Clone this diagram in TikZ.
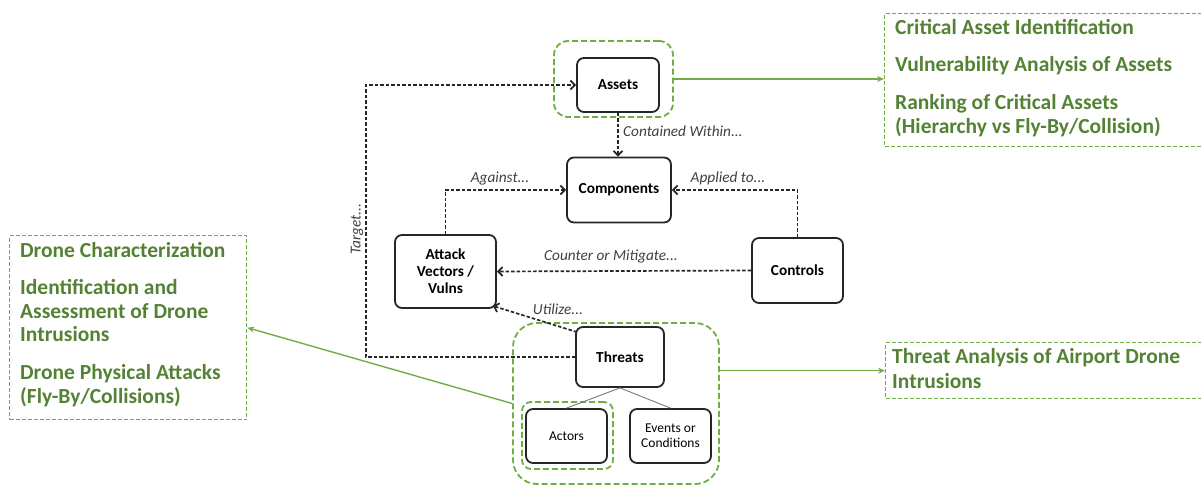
\documentclass[tikz,border=0pt]{standalone}
\usepackage{fontspec}
\setmainfont{Carlito}
\usetikzlibrary{arrows.meta}
\definecolor{grn}{RGB}{84,130,53}
\definecolor{grnline}{RGB}{112,173,71}
\definecolor{boxline}{RGB}{38,38,38}
\definecolor{lbl}{RGB}{64,64,64}
\definecolor{treeline}{RGB}{120,120,120}
\begin{document}
\begin{tikzpicture}[x=1pt,y=-1pt,
  box/.style={draw=boxline, line width=1.8pt, rounded corners=7pt, fill=white,
    font=\fontsize{15.3}{17}\selectfont\bfseries, align=center, inner sep=0pt},
  sub/.style={box, font=\fontsize{13.5}{15}\selectfont},
  link/.style={draw=boxline, line width=1.7pt, dash pattern=on 3.5pt off 2pt,
    -{Straight Barb[length=4.5pt,width=9pt]}},
  lab/.style={font=\fontsize{15.3}{17}\selectfont\itshape, text=lbl, inner sep=0pt},
  zone/.style={draw=grnline, line width=1.8pt, dash pattern=on 6pt off 3pt},
  panel/.style={draw=grnline, line width=1.4pt, dash pattern=on 4pt off 2pt, inner sep=0pt},
  item/.style={font=\fontsize{21.5}{24}\selectfont\bfseries, text=grn, anchor=base west, inner sep=0pt},
  feed/.style={draw=grnline, line width=1.4pt, -{Stealth[length=7pt,width=6pt]}},
  tree/.style={draw=treeline, line width=0.9pt}
]
\useasboundingbox (0,0) rectangle (1201,486);

% green dashed groupings
\node[zone, rounded corners=14pt, minimum width=119pt, minimum height=76pt] (za) at (613.5,79) {};
\node[zone, rounded corners=24pt, minimum width=206pt, minimum height=161pt] (zt) at (616,403.5) {};
\node[zone, rounded corners=9pt, minimum width=91pt, minimum height=67pt] (zact) at (567.5,435.5) {};

% main boxes
\node[box, minimum width=82pt, minimum height=54pt] (assets) at (618,85) {Assets};
\node[box, minimum width=104pt, minimum height=65pt] (comp) at (619,190) {Components};
\node[box, minimum width=101pt, minimum height=73pt] (atk) at (445.5,271.5) {Attack\\Vectors /\\Vulns};
\node[box, minimum width=91pt, minimum height=65pt] (ctrl) at (797.5,270.5) {Controls};
\node[box, minimum width=88pt, minimum height=60pt] (thr) at (620,357) {Threats};
\node[sub, minimum width=81pt, minimum height=54pt] (act) at (566.5,436) {Actors};
\node[sub, minimum width=81pt, minimum height=54pt] (evt) at (670.5,436) {Events or\\Conditions};

% relations
\draw[link] (assets.south) -- (assets.south |- comp.north);
\node[lab, anchor=west] (lcw) at (623,131) {Contained Within...};
\draw[link] (atk.north) |- (comp.west);
\node[lab] (lag) at (500,179) {Against...};
\draw[link] (ctrl.north) |- (comp.east);
\node[lab] (lap) at (728,178) {Applied to...};
\draw[link] (ctrl.west) -- (atk.east);
\node[lab] (lcm) at (611,257) {Counter or Mitigate...};
\draw[link] ([shift={(2,6)}]thr.north west) -- ([shift={(-4,-3)}]atk.south east);
\node[lab] (lut) at (558,309) {Utilize...};
\draw[link] (thr.west) -- ++(-209,0) |- (assets.west);
\node[lab, rotate=90] (ltg) at (357,229) {Target...};

% threat breakdown
\draw[tree] (thr.south) -- (act.north);
\draw[tree] (thr.south) -- (evt.north);

% outcome panels
\node[panel, anchor=north west, minimum width=326pt, minimum height=133pt] (pa) at (884,13) {};
\node[panel, anchor=north west, minimum width=237pt, minimum height=184pt] (pl) at (9,235) {};
\node[panel, anchor=north west, minimum width=325pt, minimum height=56pt] (pt) at (885,342) {};

\node[item] (ia1) at (895,35) {Critical Asset Identification};
\node[item] (ia2) at (895,72) {Vulnerability Analysis of Assets};
\node[item] (ia3) at (895,110) {Ranking of Critical Assets};
\node[item] (ia4) at (895,134) {(Hierarchy vs Fly-By/Collision)};

\node[item] (il1) at (20,258) {Drone Characterization};
\node[item] (il2) at (20,294) {Identification and};
\node[item] (il3) at (20,318) {Assessment of Drone};
\node[item] (il4) at (20,341) {Intrusions};
\node[item] (il5) at (20,379) {Drone Physical Attacks};
\node[item] (il6) at (20,403) {(Fly-By/Collisions)};

\node[item] (it1) at (892,363) {Threat Analysis of Airport Drone};
\node[item] (it2) at (892,388) {Intrusions};

% links to panels
\draw[feed] (za.east) -- (za.east -| pa.west);
\draw[feed] (pt.west -| zt.east) -- (pt.west);
\draw[feed] (zt.west) -- (pl.east);
\end{tikzpicture}
\end{document}
